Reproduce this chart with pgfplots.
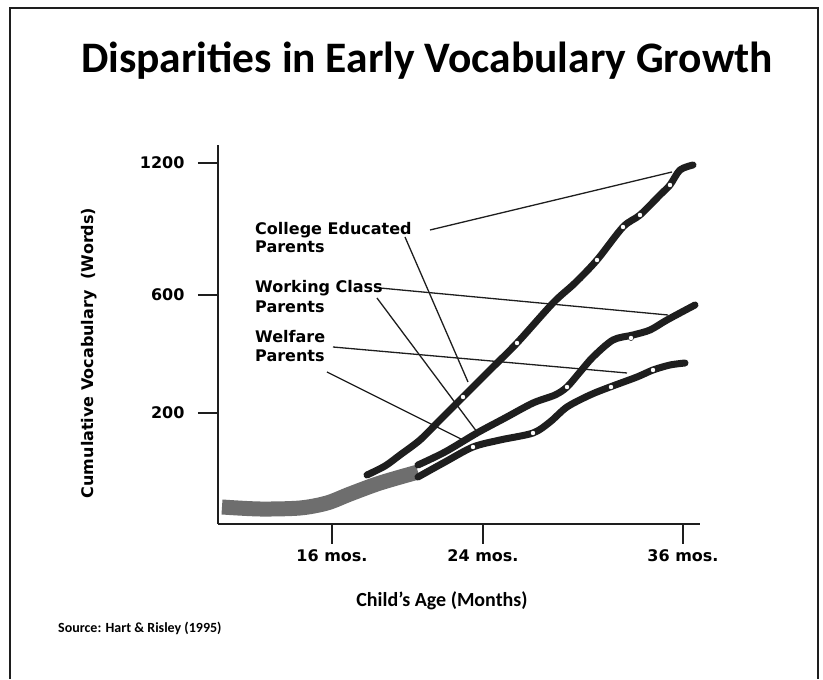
\documentclass[border=0pt]{standalone}
\usepackage{pgfplots}
\pgfplotsset{compat=1.18}
\usepackage{fontspec}
\setmainfont{Carlito}
\newfontfamily\dv{DejaVu Sans}
\definecolor{band}{HTML}{6E6E6E}
\definecolor{ink}{HTML}{1E1E1E}
\begin{document}
\begin{tikzpicture}
\begin{axis}[
  scale only axis, width=482pt, height=379pt,
  xmin=0, xmax=482, ymin=-4, ymax=375,
  axis lines*=left,
  axis line style={line width=2.2pt, ink},
  xtick={114,265,465}, xticklabels={16 mos.,24 mos.,36 mos.},
  ytick={107,225,357}, yticklabels={200,600,1200},
  tick align=outside, major tick length=20pt,
  tick style={line width=1.3pt, ink},
  xticklabel style={font=\fontsize{16}{16}\selectfont\dv\bfseries, anchor=base, yshift=-18pt},
  yticklabel style={font=\fontsize{16}{16}\selectfont\dv\bfseries, anchor=east, xshift=-10pt},
  clip=false,
]
% shared early segment (grey band)
\addplot[band, line width=15pt, smooth, tension=0.5, line cap=butt] coordinates {
 (4,13) (42,11) (82,12) (109,17) (132,26) (162,37) (200,48)};
% College educated parents
\addplot[ink, line width=7pt, smooth, tension=0.5, line cap=round] coordinates {
 (149,45) (167,54) (182,65) (202,80) (222,100) (245,123) (272,150) (299,177)
 (335,217) (357,237) (379,260) (405,293) (422,305) (442,325) (452,335) (462,350) (475,355)};
% Working class parents
\addplot[ink, line width=7pt, smooth, tension=0.5, line cap=round] coordinates {
 (200,55) (227,68) (259,87) (287,102) (315,117) (337,125) (349,133) (362,148)
 (375,163) (395,180) (415,185) (432,190) (449,200) (477,215)};
% Welfare parents
\addplot[ink, line width=7pt, smooth, tension=0.5, line cap=round] coordinates {
 (200,43) (227,58) (255,73) (282,80) (315,87) (332,98) (349,113) (372,125)
 (392,133) (419,143) (435,150) (452,155) (467,157)};
% data point dots
\addplot[only marks, mark=*, mark size=2.6pt, draw=none, fill=white] coordinates {
 (245,123) (299,177) (379,260) (405,293) (422,305) (452,335)
 (349,133) (413,182) (255,73) (315,87) (393,133) (435,150)};
% annotation lines
\draw[ink, line width=1.3pt] (axis cs:212,290) -- (axis cs:454,348);
\draw[ink, line width=1.3pt] (axis cs:187,283) -- (axis cs:250,138);
\draw[ink, line width=1.3pt] (axis cs:162,232) -- (axis cs:450,205);
\draw[ink, line width=1.3pt] (axis cs:159,222) -- (axis cs:259,88);
\draw[ink, line width=1.3pt] (axis cs:115,173) -- (axis cs:409,147);
\draw[ink, line width=1.3pt] (axis cs:109,148) -- (axis cs:249,78);
% labels
\begin{scope}[every node/.style={anchor=base west, inner sep=0pt, font=\fontsize{16}{16}\selectfont\dv\bfseries}]
\node at (axis cs:37,285) {College Educated};
\node at (axis cs:37,267) {Parents};
\node at (axis cs:37,227) {Working Class};
\node at (axis cs:37,207) {Parents};
\node at (axis cs:37,177) {Welfare};
\node at (axis cs:37,158) {Parents};
\end{scope}
% y label
\node[rotate=90, anchor=center, font=\fontsize{16}{16}\selectfont\dv\bfseries] at (axis cs:-129,167) {Cumulative Vocabulary\ \ (Words)};
% x label
\node[anchor=base, font=\fontsize{20}{20}\selectfont\bfseries] at (axis cs:224,-87) {Child's Age (Months)};
% title
\node[anchor=base, font=\fontsize{43.5}{43.5}\selectfont\bfseries] at (axis cs:209,447) {Disparities in Early Vocabulary Growth};
% source
\node[anchor=base west, inner sep=0pt, font=\fontsize{14}{14}\selectfont\bfseries] at (axis cs:-160,-113) {Source: Hart \& Risley (1995)};
% slide frame
\draw[ink, line width=1.5pt] (axis cs:-208,-159) -- (axis cs:-208,512) -- (axis cs:600,512) -- (axis cs:600,-159);
\path (axis cs:-218,-159) rectangle (axis cs:605,520);
\end{axis}
\end{tikzpicture}
\end{document}
